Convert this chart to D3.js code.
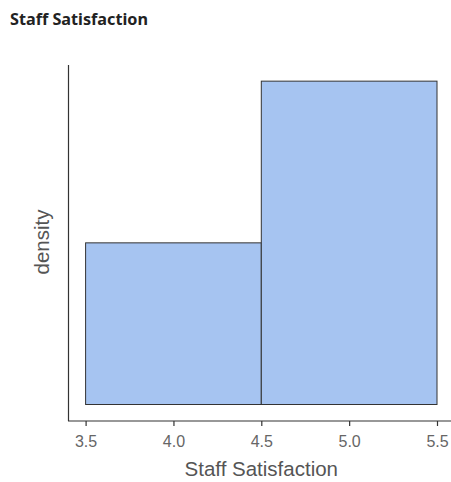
<!DOCTYPE html>
<html><head><meta charset="utf-8">
<script src="https://cdn.jsdelivr.net/npm/d3@7"></script>
<style>body{margin:0;background:#fff;}</style>
</head><body>
<script>
const binStarts = [3.5, 4.5];
const binEnds = [4.5, 5.5];
const densities = [0.3333, 0.6667];
const xTicks = [3.5, 4.0, 4.5, 5.0, 5.5];
const title = "Staff Satisfaction";
const xLabel = "Staff Satisfaction";
const yLabel = "density";

const W = 451, H = 482;
const svg = d3.select("body").append("svg").attr("width", W).attr("height", H);

const x = d3.scaleLinear().domain([3.5, 5.5]).range([85.6, 437]);
const y = d3.scaleLinear().domain([0, 0.7]).range([404.5, 65]);

svg.append("text").attr("x", 10).attr("y", 25)
  .attr("font-family", "'Noto Sans', 'Open Sans', sans-serif")
  .attr("font-weight", "bold").attr("font-size", 15.5).attr("fill", "#222")
  .attr("textLength", 138).attr("lengthAdjust", "spacingAndGlyphs")
  .text(title);

const bars = binStarts.map((s, i) => ({s, e: binEnds[i], d: densities[i]}));
svg.selectAll("rect.bar").data(bars).enter().append("rect").attr("class", "bar")
  .attr("x", d => x(d.s)).attr("width", d => x(d.e) - x(d.s))
  .attr("y", d => y(d.d)).attr("height", d => y(0) - y(d.d))
  .attr("fill", "#a6c4f1").attr("stroke", "#333").attr("stroke-width", 1);

// y axis line
svg.append("line").attr("x1", 68.5).attr("x2", 68.5).attr("y1", 65).attr("y2", 421)
  .attr("stroke", "#333").attr("stroke-width", 1.2);

// x axis
const xAxis = svg.append("g").attr("transform", "translate(0,421)")
  .call(d3.axisBottom(x).tickValues(xTicks).tickFormat(d3.format(".1f")).tickSize(5).tickSizeOuter(0));
xAxis.select(".domain").remove();
xAxis.append("line").attr("x1", 68).attr("x2", 451).attr("y1", 0).attr("y2", 0)
  .attr("stroke", "#333").attr("stroke-width", 1.2);
xAxis.selectAll(".tick line").attr("stroke", "#333").attr("stroke-width", 1.2);
xAxis.selectAll(".tick text").attr("fill", "#666").attr("font-size", 16)
  .attr("font-family", "'Liberation Sans', Arial, sans-serif").attr("y", 26).attr("dy", null);

svg.append("text").attr("x", x(4.5)).attr("y", 476).attr("text-anchor", "middle")
  .attr("font-family", "'Liberation Sans', Arial, sans-serif").attr("font-size", 20.5)
  .attr("fill", "#555").text(xLabel);

svg.append("text").attr("transform", "translate(49,242) rotate(-90)").attr("text-anchor", "middle")
  .attr("font-family", "'Liberation Sans', Arial, sans-serif").attr("font-size", 20.5)
  .attr("fill", "#555").text(yLabel);
</script>
</body></html>
